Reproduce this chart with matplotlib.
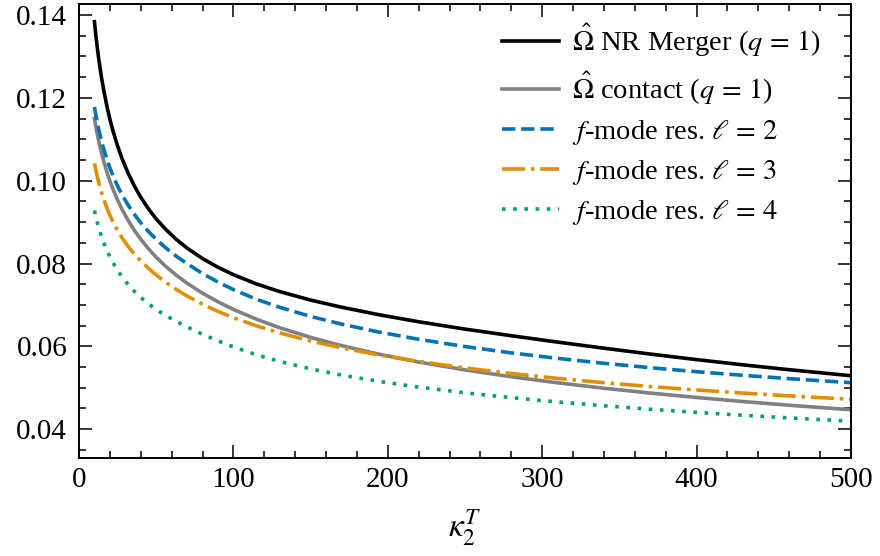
import matplotlib
matplotlib.use("Agg")
import matplotlib.pyplot as plt
from matplotlib.ticker import MultipleLocator, FormatStrFormatter

# ---- data ----
kappa = [10, 11, 12, 13, 14, 15, 16, 18, 20, 22, 25, 28, 32, 36, 40, 45, 50, 56,
         63, 70, 80, 90, 100, 115, 130, 150, 170, 195, 220, 250, 280, 310, 340,
         370, 400, 430, 460, 500]

omega_nr = [0.13840, 0.13483, 0.13168, 0.12886, 0.12631, 0.12399, 0.12188, 0.11812,
            0.11488, 0.11204, 0.10837, 0.10523, 0.10167, 0.09864, 0.09602, 0.09319,
            0.09078, 0.08830, 0.08583, 0.08372, 0.08120, 0.07909, 0.07730, 0.07506,
            0.07322, 0.07117, 0.06945, 0.06758, 0.06593, 0.06416, 0.06256, 0.06102,
            0.05955, 0.05813, 0.05679, 0.05553, 0.05435, 0.05290]
omega_contact = [0.11500, 0.11287, 0.11094, 0.10918, 0.10757, 0.10607, 0.10468, 0.10217,
                 0.09995, 0.09795, 0.09531, 0.09299, 0.09029, 0.08793, 0.08585, 0.08355,
                 0.08152, 0.07937, 0.07718, 0.07524, 0.07283, 0.07075, 0.06892, 0.06654,
                 0.06449, 0.06216, 0.06017, 0.05804, 0.05621, 0.05430, 0.05265, 0.05119,
                 0.04988, 0.04871, 0.04764, 0.04667, 0.04577, 0.04468]
fmode_l2 = [0.11780, 0.11568, 0.11378, 0.11205, 0.11047, 0.10901, 0.10766, 0.10524,
            0.10311, 0.10121, 0.09871, 0.09653, 0.09400, 0.09180, 0.08986, 0.08772,
            0.08584, 0.08383, 0.08177, 0.07996, 0.07758, 0.07552, 0.07370, 0.07135,
            0.06942, 0.06722, 0.06537, 0.06339, 0.06170, 0.05994, 0.05842, 0.05709,
            0.05590, 0.05484, 0.05387, 0.05300, 0.05219, 0.05121]
fmode_l3 = [0.10420, 0.10238, 0.10074, 0.09926, 0.09791, 0.09667, 0.09552, 0.09346,
            0.09166, 0.09006, 0.08795, 0.08613, 0.08403, 0.08222, 0.08062, 0.07883,
            0.07724, 0.07552, 0.07374, 0.07216, 0.07016, 0.06843, 0.06691, 0.06494,
            0.06323, 0.06129, 0.05963, 0.05786, 0.05634, 0.05478, 0.05343, 0.05225,
            0.05121, 0.05028, 0.04946, 0.04871, 0.04803, 0.04721]
fmode_l4 = [0.09280, 0.09118, 0.08972, 0.08840, 0.08720, 0.08609, 0.08507, 0.08324,
            0.08163, 0.08021, 0.07833, 0.07671, 0.07483, 0.07322, 0.07181, 0.07026,
            0.06890, 0.06748, 0.06602, 0.06468, 0.06292, 0.06132, 0.05986, 0.05794,
            0.05634, 0.05455, 0.05306, 0.05149, 0.05015, 0.04878, 0.04760, 0.04657,
            0.04565, 0.04481, 0.04405, 0.04335, 0.04271, 0.04192]

labels = [r"$\hat{\Omega}$ NR Merger ($q\,=\,1$)",
          r"$\hat{\Omega}$ contact ($q\,=\,1$)",
          r"$f$-mode res. $\ell\,=\,2$",
          r"$f$-mode res. $\ell\,=\,3$",
          r"$f$-mode res. $\ell\,=\,4$"]

# ---- style ----
plt.rcParams["font.family"] = ["Liberation Serif", "DejaVu Serif"]
plt.rcParams["mathtext.fontset"] = "stix"

fig = plt.figure(figsize=(8.8, 5.56), dpi=100)
ax = fig.add_axes([79 / 880, 1 - 457.7 / 556, (851 - 79) / 880, (457.7 - 3.5) / 556])

lw = 2.6
ax.plot(kappa, omega_nr, color="black", lw=lw, label=labels[0])
ax.plot(kappa, omega_contact, color="#808080", lw=lw, label=labels[1])
ax.plot(kappa, fmode_l2, color="#0173B2", lw=lw, ls="--", label=labels[2])
ax.plot(kappa, fmode_l3, color="#DE8F05", lw=lw, ls="-.", label=labels[3])
ax.plot(kappa, fmode_l4, color="#029E73", lw=lw, ls=(0, (1, 2.1)), label=labels[4])

ax.set_xlim(0, 500)
ax.set_ylim(0.0331, 0.1428)
ax.xaxis.set_major_locator(MultipleLocator(100))
ax.xaxis.set_minor_locator(MultipleLocator(20))
ax.yaxis.set_major_locator(MultipleLocator(0.02))
ax.yaxis.set_minor_locator(MultipleLocator(0.005))
ax.yaxis.set_major_formatter(FormatStrFormatter("%.2f"))

for s in ax.spines.values():
    s.set_linewidth(1.4)
ax.tick_params(which="both", direction="in", top=True, right=True, width=1.1)
ax.tick_params(which="major", length=9.2, labelsize=21)
ax.tick_params(which="minor", length=4.7)
ax.tick_params(axis="x", which="major", pad=7)
ax.tick_params(axis="y", which="major", pad=8.5)

ax.set_xlabel(r"$\kappa_2^T$", fontsize=24, labelpad=10)

leg = ax.legend(loc="upper left", bbox_to_anchor=(0.515, 1.015), frameon=False,
                fontsize=20.5, handlelength=2.0, handletextpad=0.45,
                labelspacing=0.38, borderpad=0.4)

fig.savefig("out.png", dpi=100)
